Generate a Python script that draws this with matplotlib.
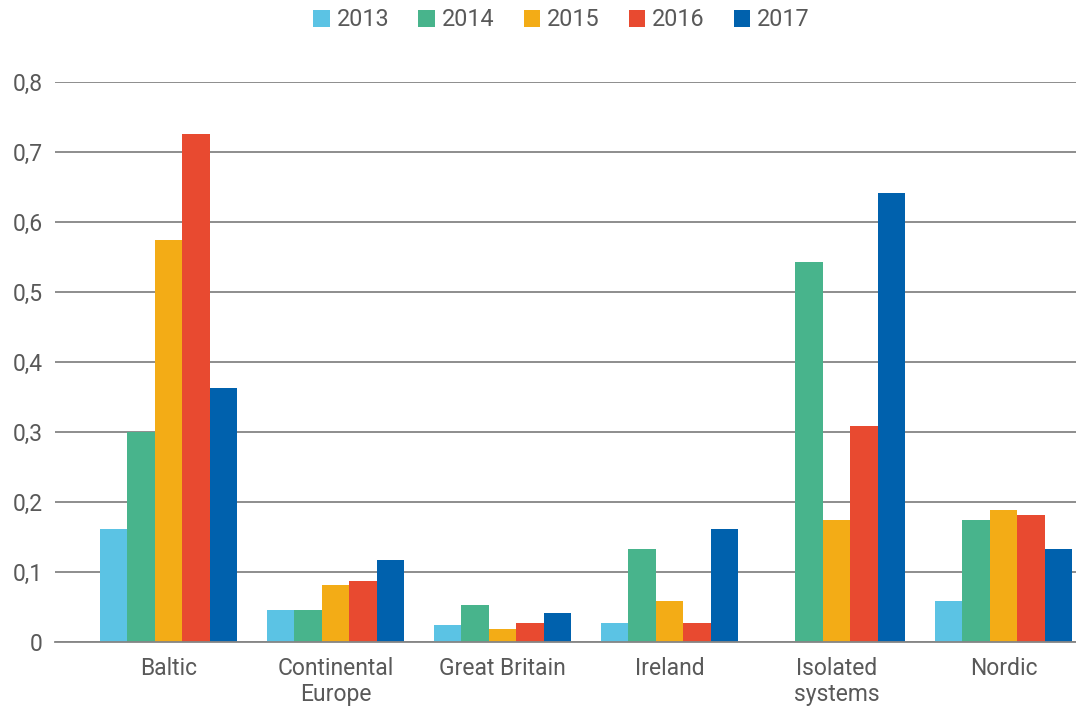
import matplotlib
matplotlib.use("Agg")
import matplotlib.pyplot as plt
import numpy as np
from matplotlib.ticker import FuncFormatter, MultipleLocator
from matplotlib.patches import Patch

plt.rcParams['font.family'] = ['Roboto', 'DejaVu Sans']

categories = ["Baltic", "Continental\nEurope", "Great Britain", "Ireland",
              "Isolated\nsystems", "Nordic"]
years = ["2013", "2014", "2015", "2016", "2017"]
values = {
    "2013": [0.161, 0.046, 0.024, 0.027, 0.0, 0.059],
    "2014": [0.300, 0.046, 0.053, 0.133, 0.543, 0.174],
    "2015": [0.574, 0.081, 0.019, 0.059, 0.174, 0.189],
    "2016": [0.726, 0.087, 0.027, 0.027, 0.309, 0.181],
    "2017": [0.363, 0.117, 0.041, 0.161, 0.641, 0.133],
}
colors = ["#5BC3E4", "#48B48C", "#F3AC16", "#E84A30", "#0061AD"]

text_color = "#595959"
grid_color = "#858585"

fig = plt.figure(figsize=(10.76, 7.08), dpi=100)
ax = fig.add_axes([55 / 1076, 66 / 708, 1 - 55 / 1076, (642 - 82) / 708])

x = np.arange(len(categories))
bar_w = 0.164
for i, (yr, col) in enumerate(zip(years, colors)):
    ax.bar(x + (i - 2) * bar_w, values[yr], width=bar_w, color=col,
           zorder=3, linewidth=0)

ax.set_xlim(-0.68, 5.434)
ax.set_ylim(0, 0.8)
ax.yaxis.set_major_locator(MultipleLocator(0.1))
ax.yaxis.set_major_formatter(
    FuncFormatter(lambda v, _: "0" if abs(v) < 1e-9 else f"{v:.1f}".replace(".", ",")))
ax.grid(axis="y", color=grid_color, linewidth=1.3, zorder=0)
ax.set_axisbelow(True)

for s in ["top", "right", "left"]:
    ax.spines[s].set_visible(False)
ax.spines["bottom"].set_color(grid_color)
ax.spines["bottom"].set_linewidth(1.3)
ax.spines["bottom"].set_zorder(4)

ax.set_xticks(x)
ax.set_xticklabels(categories, linespacing=1.17)
ax.tick_params(axis="x", length=0, pad=11, labelsize=16.5, labelcolor=text_color)
ax.tick_params(axis="y", length=0, pad=9, labelsize=16.5, labelcolor=text_color)

handles = [Patch(facecolor=c, edgecolor="none", label=y) for y, c in zip(years, colors)]
fig.legend(handles=handles, loc="center", bbox_to_anchor=(561.5 / 1076, 1 - 20 / 708),
           ncol=5, frameon=False, fontsize=16.8, labelcolor=text_color,
           handlelength=0.7, handleheight=0.7, handletextpad=0.3,
           columnspacing=1.25, borderaxespad=0, borderpad=0)

fig.savefig("out.png", dpi=100, facecolor="white")
